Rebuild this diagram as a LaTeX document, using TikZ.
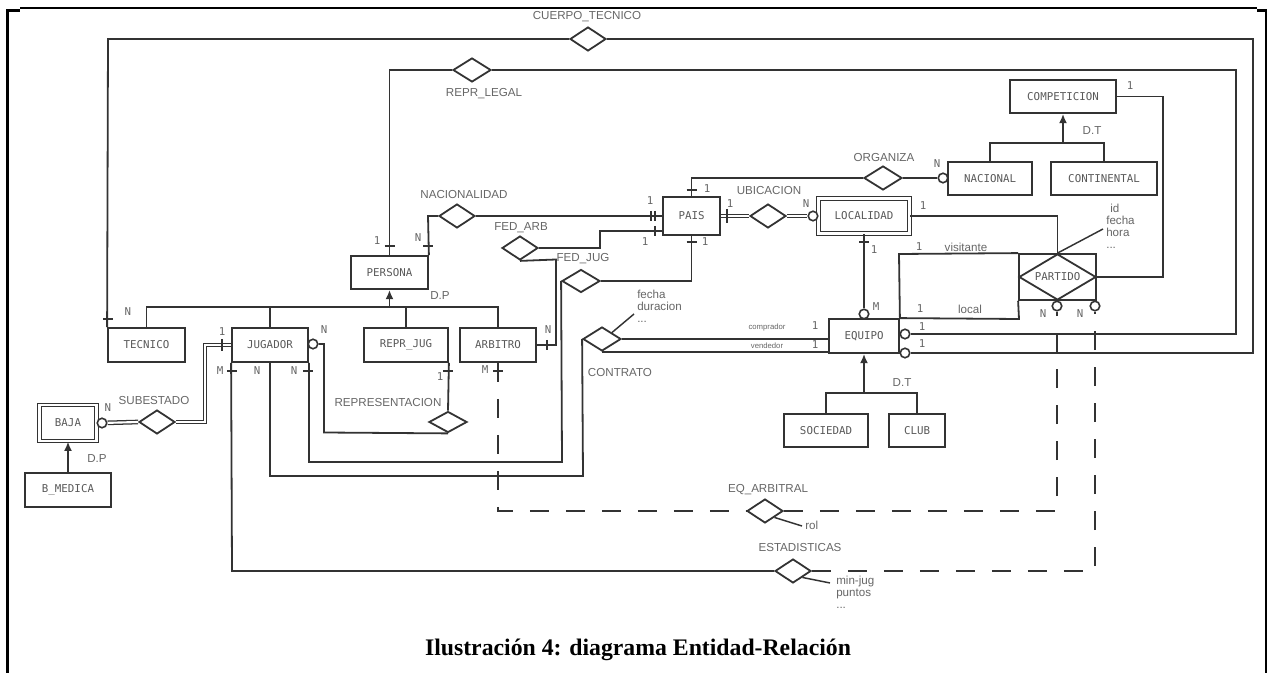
\documentclass[tikz,border=0pt]{standalone}
\usepackage{fontspec}
\setmainfont{Liberation Sans}
\newfontfamily\capfont{Liberation Serif}
\newfontfamily\monof{DejaVu Sans Mono}
\usetikzlibrary{shapes.geometric,arrows.meta}
\begin{document}
\begin{tikzpicture}[x=0.75pt,y=-0.75pt,
  sz/.style 2 args={minimum width=#1*0.75pt, minimum height=#2*0.75pt},
  ln/.style={draw=black!80, line width=1.35pt},
  tk/.style={draw=black!80, line width=1.1pt},
  dsh/.style={ln, dash pattern=on 14pt off 13pt},
  dbl/.style={draw=black!80, line width=0.95pt, double=white, double distance=1.6pt},
  isa/.style={ln, -{Latex[length=7pt,width=6pt]}},
  ent/.style={draw=black!80, line width=1.35pt, rectangle, inner sep=0pt, fill=white,
    font=\monof\fontsize{8.1}{9}\selectfont, text=black!65},
  weak/.style={ent, line width=0.9pt, double=white, double distance=1.8pt},
  rel/.style={diamond, draw=black!80, line width=1.35pt, fill=white, inner sep=0pt, sz={36}{24}},
  circ/.style={circle, draw=black!80, line width=1.2pt, fill=white, inner sep=0pt, minimum size=9.5*0.75pt},
  lab/.style={font=\fontsize{8.7}{10}\selectfont, text=black!60, inner sep=0pt},
  card/.style={font=\monof\fontsize{8.1}{9}\selectfont, text=black!60, inner sep=0pt},
  tiny/.style={font=\fontsize{5.8}{6}\selectfont, text=black!60, inner sep=0pt},
  att/.style={lab, align=left, anchor=north west}
]
\useasboundingbox (0,0) rectangle (1275,673);
% frame
\draw[line width=2.2pt] (7.5,673) -- (7.5,10.5) -- (20,10.5);
\draw[line width=1.5pt] (20,8) -- (1257,8);
\draw[line width=2.2pt] (1257,10.5) -- (1266,10.5) -- (1266,673);

% entities
\node[ent,sz={77}{34}] (tec) at (146.5,345) {TECNICO};
\node[ent,sz={76}{34}] (jug) at (270,345) {JUGADOR};
\node[ent,sz={84}{34}] (rj) at (406,345) {REPR\_JUG};
\node[ent,sz={76}{34}] (arb) at (498,345) {ARBITRO};
\node[ent,sz={77}{33}] (per) at (389.5,272.5) {PERSONA};
\node[ent,sz={57}{38}] (pais) at (691.5,216) {PAIS};
\node[weak,sz={91}{35}] (loc) at (864,216) {LOCALIDAD};
\node[ent,sz={84}{33}] (nacl) at (990,178.5) {NACIONAL};
\node[ent,sz={106}{33}] (cont) at (1104,178.5) {CONTINENTAL};
\node[ent,sz={106}{33}] (comp) at (1063,96.5) {COMPETICION};
\node[ent,sz={70}{34}] (eq) at (864,336) {EQUIPO};
\node[ent,sz={84}{33}] (soc) at (826,430.5) {SOCIEDAD};
\node[ent,sz={56}{33}] (club) at (917,430.5) {CLUB};
\node[weak,sz={57}{36}] (baja) at (68,423) {BAJA};
\node[ent,sz={86}{34}] (bmed) at (68,490) {B\_MEDICA};
\node[ent,sz={77}{46}] (partbox) at (1057.5,277) {};
\node[rel,sz={77}{46}] (part) at (1057.5,277) {};
\node[ent,draw=none,fill=none] (partl) at (part.center) {PARTIDO};

% relationships
\node[rel] (ct) at (588,39) {};
\node[rel,sz={38}{24}] (rl) at (472,70) {};
\node[rel] (nac) at (457,216) {};
\node[rel] (ubi) at (768,216) {};
\node[rel,sz={38}{24}] (org) at (883,178) {};
\node[rel] (fa) at (520,248) {};
\node[rel,sz={38}{23}] (fj) at (581,281) {};
\node[rel,sz={38}{24}] (con) at (602,339) {};
\node[rel,sz={38}{21}] (rep) at (448,422) {};
\node[rel] (sub) at (157,422) {};
\node[rel] (eqa) at (765,511) {};
\node[rel] (est) at (793,571) {};

% circles
\node[circ] (c_ct) at (905,353) {};
\node[circ] (c_rl) at (905,334) {};
\node[circ] (c_loc) at (813,216) {};
\node[circ] (c_org) at (943,178) {};
\node[circ] (c_eq) at (864,314) {};
\node[circ] (c_p1) at (1057,306) {};
\node[circ] (c_p2) at (1095,306) {};
\node[circ] (c_baja) at (102,423) {};
\node[circ] (c_jug) at (313,344) {};

% CUERPO_TECNICO
\draw[ln] (tec.north west) -- (108,39) -- (ct.west);
\draw[ln] (ct.east) -- (1253,39) |- (c_ct);
\draw[tk] (103,319) -- (113,319);
% REPR_LEGAL
\draw[ln] (per.north) -- (389.5,70) -- (rl.west);
\draw[ln] (rl.east) -- (1236,70) |- (c_rl);
\draw[tk] (384.5,246) -- (394.5,246);
% NACIONALIDAD
\draw[ln] (per.north east) -- (428,216) -- (nac.west);
\draw[ln] (nac.east) -- (nac.east -| pais.west);
\draw[tk] (423,246) -- (433,246);
\draw[tk] (651,211) -- (651,221);
\draw[tk] (655,211) -- (655,221);
% FED_ARB
\draw[ln] (fa.east) -- (600,248) -- (600,231) -- (pais.west |- 0,231);
\draw[tk] (655,226) -- (655,236);
\draw[ln] (fa.south) -- (556,259.5) -- (556,345) -- (arb.east);
\draw[tk] (547,340) -- (547,350);
% FED_JUG
\draw[ln] (fj.east) -| (pais.south);
\draw[tk] (686.5,242) -- (696.5,242);
\draw[ln] (fj.west) -- (562,462) -| (jug.south east);
\draw[tk] (303,371) -- (313,371);
% CONTRATO
\draw[ln] (con.west) -- (583,476) -| (jug.south);
\draw[ln] (con.east) -- (con.east -| eq.west);
\draw[ln] (con.south) -- (con.south -| eq.west);
\draw[ln,line width=1.1pt] (con.north east) -- (634,314);
% ESTADISTICAS
\draw[ln] (jug.south west) -- (232,571) -- (est.west);
\draw[dsh] (est.east) -- (1095,571) -- (c_p2);
\draw[tk] (227,371) -- (237,371);
\draw[ln,line width=1.1pt] (est.south east) -- (830,583);
% EQ_ARBITRAL
\draw[dsh] (arb.south) -- (498,511) -- (eqa.west);
\draw[dsh] (eqa.east) -- (1057,511) -- (c_p1);
\draw[tk] (493,371) -- (503,371);
\draw[ln,line width=1.1pt] (eqa.south east) -- (802,526);
% REPRESENTACION
\draw[ln] (rj.south east) -- (rep.north);
\draw[ln] (rep.south) -- (324,432.5) |- (c_jug);
\draw[tk] (443,371) -- (453,371);
% SUBESTADO
\draw[dbl] (c_baja) -- (sub.west);
\draw[dbl] (sub.east) -- (205,422) |- (jug.west);
\draw[tk] (222,339) -- (222,351);
% UBICACION
\draw[dbl] (pais.east) -- (ubi.west);
\draw[dbl] (ubi.east) -- (c_loc);
\draw[tk] (727,209) -- (727,223);
% ORGANIZA
\draw[ln] (pais.north) -- (691.5,178) -- (org.west);
\draw[ln] (org.east) -- (c_org);
\draw[tk] (686.5,190) -- (696.5,190);
% LOCALIDAD - EQUIPO
\draw[ln] (loc.south) -- (c_eq);
\draw[tk] (859,242) -- (869,242);
% LOCALIDAD - PARTIDO
\draw[ln] (loc.east) -- (1057.5,216) -- (part.north);
% COMPETICION - PARTIDO
\draw[ln] (comp.east) -- (1163,96.5) |- (part.east);
% visitante / local
\draw[ln] (partbox.north west) -- (899,254) -- (eq.north east);
\draw[ln] (partbox.south west) -- (1019,319) -- (eq.north east);
% PARTIDO attributes
\draw[ln,line width=1.1pt] (part.north) -- (1103,229);

% hierarchies
\coordinate (pbL) at (146.5,307);
\coordinate (pbR) at (498,307);
\draw[ln] (tec.north) -- (pbL) -- (pbR) -- (arb.north);
\draw[ln] (jug.north) -- (jug.north |- pbL);
\draw[ln] (rj.north) -- (rj.north |- pbL);
\draw[isa] (per.south |- pbL) -- (per.south);
\coordinate (cbL) at (990,143);
\coordinate (cbR) at (1104,143);
\draw[ln] (nacl.north) -- (cbL) -- (cbR) -- (cont.north);
\draw[isa] (comp.south |- cbL) -- (comp.south);
\coordinate (ebL) at (826,393);
\coordinate (ebR) at (917,393);
\draw[ln] (soc.north) -- (ebL) -- (ebR) -- (club.north);
\draw[isa] (eq.south |- ebL) -- (eq.south);
\draw[isa] (bmed.north) -- (baja.south);

% relationship labels
\node[lab] (lct) at (587,17) {CUERPO\_TECNICO};
\node[lab] (lrl) at (484,94) {REPR\_LEGAL};
\node[lab] (lnac) at (464,195) {NACIONALIDAD};
\node[lab] (lfa) at (521,228) {FED\_ARB};
\node[lab] (lfj) at (583,259) {FED\_JUG};
\node[lab] (lcon) at (620,373) {CONTRATO};
\node[lab] (lrep) at (388,403) {REPRESENTACION};
\node[lab] (lsub) at (154,401) {SUBESTADO};
\node[lab] (lubi) at (769,191) {UBICACION};
\node[lab] (lorg) at (884,158) {ORGANIZA};
\node[lab] (leqa) at (768,490) {EQ\_ARBITRAL};
\node[lab] (lest) at (800,548) {ESTADISTICAS};
\node[lab] (ldp1) at (440,296) {D.P};
\node[lab] (ldp2) at (97,459) {D.P};
\node[lab] (ldt1) at (1092,131) {D.T};
\node[lab] (ldt2) at (902,383) {D.T};

% attributes
\node[att] (acon) at (637,290) {fecha\\[-1pt]duracion\\[-1pt]...};
\node[att] (apart) at (1106,204) {\hspace*{3pt}id\\[-1pt]fecha\\[-1pt]hora\\[-1pt]...};
\node[lab,anchor=west] (arol) at (805,525) {rol};
\node[att] (aest) at (836,576) {min-jug\\[-1pt]puntos\\[-1pt]...};
\node[lab] (lvis) at (966,247) {visitante};
\node[lab] (lloc) at (970,309) {local};
\node[tiny] (lcomp) at (767,328) {comprador};
\node[tiny] (lvend) at (767,346) {vendedor};

% cardinalities
\node[card] at (128,312) {N};
\node[card] at (377,241) {1};
\node[card] at (418,238) {N};
\node[card] at (650,201) {1};
\node[card] at (645,242) {1};
\node[card] at (705,242) {1};
\node[card] at (707,189) {1};
\node[card] at (730,204) {1};
\node[card] at (806,204) {N};
\node[card] at (937,164) {N};
\node[card] at (923,206) {1};
\node[card] at (874,250) {1};
\node[card] at (876,307) {M};
\node[card] at (1130,86) {1};
\node[card] at (919,247) {1};
\node[card] at (920,309) {1};
\node[card] at (922,327) {1};
\node[card] at (922,344) {1};
\node[card] at (1043,314) {N};
\node[card] at (1080,314) {N};
\node[card] at (815,326) {1};
\node[card] at (815,345) {1};
\node[card] at (548,330) {N};
\node[card] at (485,370) {M};
\node[card] at (440,377) {1};
\node[card] at (324,330) {N};
\node[card] at (220,371) {M};
\node[card] at (257,371) {N};
\node[card] at (294,371) {N};
\node[card] at (222,332) {1};
\node[card] at (108,408) {N};

% caption
\node[font=\capfont\bfseries\fontsize{17.8}{20}\selectfont, inner sep=0pt] (cap) at (638,650) {Ilustración 4: diagrama Entidad-Relación};
\end{tikzpicture}
\end{document}
